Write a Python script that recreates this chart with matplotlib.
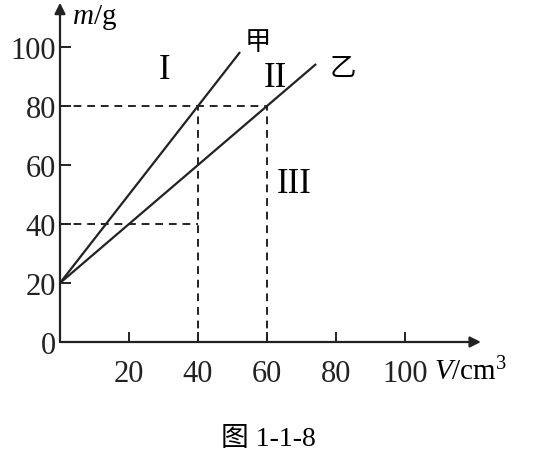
import matplotlib
matplotlib.use("Agg")
from matplotlib import pyplot as plt

plt.rcParams['mathtext.fontset'] = 'custom'
plt.rcParams['mathtext.rm'] = 'Liberation Serif'
plt.rcParams['mathtext.it'] = 'Liberation Serif:italic'

# density lines
jia_V = [0, 40, 52]
jia_m = [20, 80, 98]
yi_V = [0, 60, 74]
yi_m = [20, 80, 94]

x_ticks = [20, 40, 60, 80, 100]
y_ticks = [0, 20, 40, 60, 80, 100]

# dashed guide lines: (x list, y list)
guides = [
    ([0, 60], [80, 80]),
    ([0, 40], [40, 40]),
    ([40, 40], [0, 80]),
    ([60, 60], [0, 80]),
]

serif = ['Liberation Serif', 'Noto Sans CJK SC']
cjk = ['Noto Sans CJK SC', 'Liberation Serif']

W, H = 537, 464
fig = plt.figure(figsize=(W / 100, H / 100), dpi=100)

x0, y0 = 60, 343        # origin in pixels
sx, sy = 3.45, 2.95     # pixels per unit
xmax, ymax = 122, 115
ax = fig.add_axes([x0 / W, (H - y0) / H, xmax * sx / W, ymax * sy / H])
ax.set_xlim(0, xmax)
ax.set_ylim(0, ymax)
for s in ax.spines.values():
    s.set_visible(False)

# axes with arrows
ax.annotate('', xy=(xmax, 0), xytext=(0, 0),
            arrowprops=dict(arrowstyle='-|>', color='#222', lw=1.6,
                            mutation_scale=16, shrinkA=0, shrinkB=0))
ax.annotate('', xy=(0, ymax), xytext=(0, 0),
            arrowprops=dict(arrowstyle='-|>', color='#222', lw=1.6,
                            mutation_scale=16, shrinkA=0, shrinkB=0))

ax.set_xticks(x_ticks)
ax.set_yticks(y_ticks)
ax.set_xticklabels([str(t) for t in x_ticks], family=serif, fontsize=22)
ax.set_yticklabels([str(t) for t in y_ticks], family=serif, fontsize=22)
ax.tick_params(axis='x', direction='in', length=7, width=1.4, pad=12, colors='#222')
ax.tick_params(axis='y', direction='in', length=8, width=1.4, pad=3, colors='#222')

ax.plot(jia_V, jia_m, color='#222', lw=1.6)
ax.plot(yi_V, yi_m, color='#222', lw=1.6)
for gx, gy in guides:
    ax.plot(gx, gy, color='#222', lw=1.4, ls=(0, (4, 3)))

ax.text(57.4, 102, '甲', family=cjk, fontsize=19, ha='center', va='center')
ax.text(82, 93, '乙', family=cjk, fontsize=19, ha='center', va='center')
ax.text(30.4, 92.5, 'I', family=serif, fontsize=25, ha='center', va='center')
ax.text(62.3, 89.8, 'II', family=serif, fontsize=25, ha='center', va='center')
ax.text(68, 53.6, 'III', family=serif, fontsize=25, ha='center', va='center')

fig.text(434 / W, 1 - 372 / H, r'$\mathit{V}$/cm$^3$', family=serif, fontsize=21,
         ha='left', va='center')
fig.text(72 / W, 1 - 18 / H, r'$\mathit{m}$/g', family=serif, fontsize=21,
         ha='left', va='center')
fig.text(268 / W, 1 - 440 / H, '图 1-1-8', family=serif, fontsize=20,
         ha='center', va='center')

fig.savefig('out.png', dpi=100)
